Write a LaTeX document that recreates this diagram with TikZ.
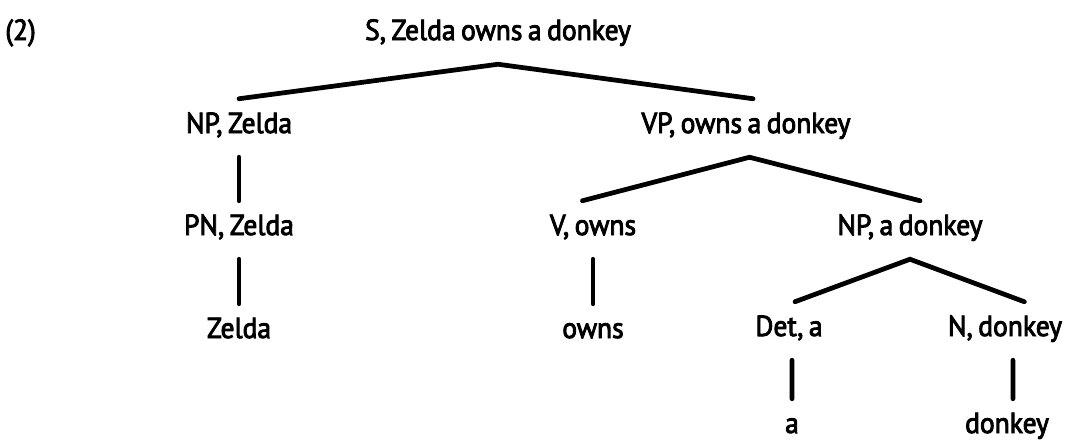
\documentclass[tikz,border=0pt]{standalone}
\usepackage{fontspec}
\setmainfont{PT Sans}[FakeBold=3,FakeStretch=0.95,WordSpace=0.75]
\usetikzlibrary{positioning}

\begin{document}
\begin{tikzpicture}[x=0.02cm,y=-0.02cm,
  cat/.style={font=\fontsize{16.5}{19}\selectfont,anchor=base,inner sep=0pt,text height=19.3pt,text depth=13.6pt},
  branch/.style={line width=2.7pt,line cap=round,line join=miter}]
\useasboundingbox (0,0) rectangle (1085,443);

\node[cat,anchor=base west] (ex) at (5,40) {(2)};
\node[cat] (s) at (498,40) {S, Zelda owns a donkey};

\node[cat] (np) at (239,133) {NP, Zelda};
\node[cat] (vp) at (746,133) {VP, owns a donkey};

\node[cat] (pn) at (239,235) {PN, Zelda};
\node[cat] (v) at (593,235) {V, owns};
\node[cat] (npb) at (910,235) {NP, a donkey};

\node[cat] (zelda) at (239,338) {Zelda};
\node[cat] (owns) at (593,338) {owns};
\node[cat] (det) at (789,336) {Det, a};
\node[cat] (n) at (1005,336) {N, donkey};

\node[cat] (a) at (792,433) {a};
\node[cat] (donkey) at (1007,433) {donkey};

\draw[branch] (np.north) -- (s.south) -- ([xshift=4pt]vp.north);
\draw[branch] ([xshift=-6pt]v.north) -- ([xshift=2pt]vp.south) -- ([xshift=5.7pt]npb.north);
\draw[branch] ([xshift=3.4pt]det.north) -- (npb.south) -- ([xshift=11pt]n.north);

\draw[branch] (np.south) -- (pn.north);
\draw[branch] (pn.south) -- (zelda.north);
\draw[branch] (v.south) -- (owns.north);
\draw[branch] ([xshift=1.7pt]det.south) -- (a.north);
\draw[branch] ([xshift=4.5pt]n.south) -- ([xshift=3.4pt]donkey.north);

\end{tikzpicture}
\end{document}
